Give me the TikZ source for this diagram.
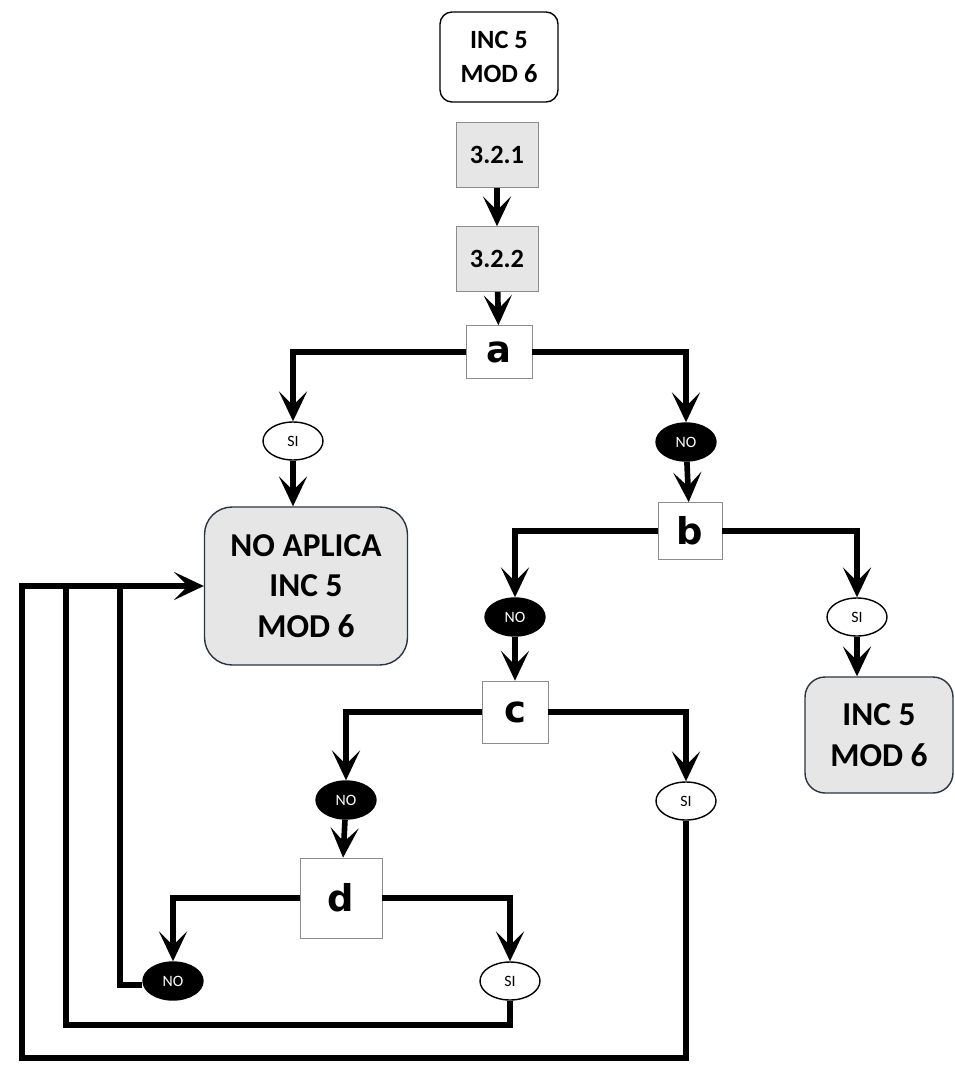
\documentclass[tikz,border=0pt]{standalone}
\usepackage{fontspec}
\setmainfont{Carlito}
\newfontfamily\letterfont{DejaVu Sans}
\usepackage{tikz}
\usetikzlibrary{arrows.meta, positioning, shapes.geometric}
\definecolor{boxgray}{HTML}{E6E6E6}
\definecolor{edgegray}{HTML}{8C8C8C}
\definecolor{edgedark}{HTML}{2B3440}

\begin{document}
\begin{tikzpicture}[x=0.02cm, y=-0.02cm,
  flow/.style={line width=3.2pt, -{Stealth[length=17pt, width=16pt, inset=8pt]}},
  link/.style={line width=3.2pt},
  result/.style={draw=edgedark, thick, fill=boxgray, rounded corners=0.55cm, align=center, font=\fontsize{19}{23}\selectfont\bfseries},
  stepnum/.style={draw=edgegray, fill=boxgray, minimum width=1.64cm, minimum height=1.3cm, font=\fontsize{15}{18}\selectfont\bfseries},
  question/.style={draw=edgegray, fill=white, font=\fontsize{21}{24}\selectfont\letterfont\bfseries},
  yes/.style={ellipse, draw, thick, fill=white, minimum width=1.2cm, minimum height=0.76cm, inner sep=0pt, font=\fontsize{9}{10}\selectfont},
  no/.style={ellipse, draw, thick, fill=black, text=white, minimum width=1.2cm, minimum height=0.76cm, inner sep=0pt, font=\fontsize{9}{10}\selectfont}]
  \useasboundingbox (0,0) rectangle (955,1068);
  % inicio
  \node[draw, thick, rounded corners=0.24cm, minimum width=2.36cm, minimum height=1.8cm, align=center,
    font=\fontsize{15}{19}\selectfont\bfseries] (start) at (499,57) {INC 5\\MOD 6};
  \node[stepnum] (n321) at (497,155) {3.2.1};
  \node[stepnum] (n322) at (497,259) {3.2.2};
  % preguntas
  \node[question, minimum width=1.32cm, minimum height=1.06cm] (a) at (499,352) {a};
  \node[question, minimum width=1.28cm, minimum height=1.14cm] (b) at (690,531) {b};
  \node[question, minimum width=1.32cm, minimum height=1.24cm] (c) at (515,712) {c};
  \node[question, minimum width=1.64cm, minimum height=1.6cm] (d) at (341,898) {d};
  % respuestas
  \node[yes] (siA) at (293,441) {SI};
  \node[no] (noA) at (686,442) {NO};
  \node[no] (noB) at (515,617) {NO};
  \node[yes] (siB) at (857,617) {SI};
  \node[no] (noC) at (346,800) {NO};
  \node[yes] (siC) at (686,801) {SI};
  \node[no] (noD) at (173,981) {NO};
  \node[yes] (siD) at (510,981) {SI};
  % resultados
  \node[result, minimum width=4.06cm, minimum height=3.16cm] (noaplica) at (306,586) {NO APLICA\\INC 5\\MOD 6};
  \node[result, minimum width=2.96cm, minimum height=2.32cm, rounded corners=0.4cm] (incR) at (879,735) {INC 5\\MOD 6};
  % lazos de retorno
  \coordinate (loopC) at (22,1058);
  \coordinate (loopD) at (66,1025);
  \coordinate (loopN) at (120,985);
  % conectores
  \draw[flow] (n321) -- (n322);
  \draw[flow] (n322) -- (a);
  \draw[flow] (a.west) -| (siA.north);
  \draw[flow] (a.east) -| (noA.north);
  \draw[flow] (siA.south) -- (siA.south |- noaplica.north);
  \draw[flow] (noA) -- (b);
  \draw[flow] (b.west) -| (noB.north);
  \draw[flow] (b.east) -| (siB.north);
  \draw[flow] (siB.south) -- (siB.south |- incR.north);
  \draw[flow] (noB) -- (c);
  \draw[flow] (c.west) -| (noC.north);
  \draw[flow] (c.east) -| (siC.north);
  \draw[flow] (noC) -- (d);
  \draw[flow] (d.west) -| (noD.north);
  \draw[flow] (d.east) -| (siD.north);
  \draw[link] (noD.west |- loopN) -- (loopN) -- (loopN |- noaplica.west);
  \draw[link] (siD.south) |- (loopD) -- (loopD |- noaplica.west);
  \draw[flow] (siC.south) |- (loopC) |- (noaplica.west);
\end{tikzpicture}
\end{document}
